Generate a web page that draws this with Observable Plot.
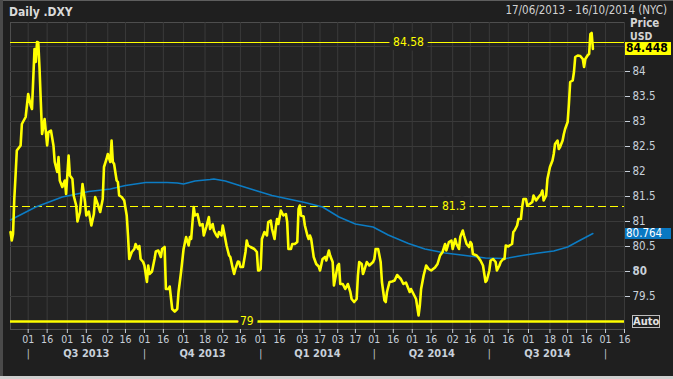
<!DOCTYPE html>
<html><head><meta charset="utf-8">
<script src="https://cdn.jsdelivr.net/npm/d3@7"></script>
<script src="https://cdn.jsdelivr.net/npm/@observablehq/plot@0.6"></script>
<style>
body{margin:0;background:#1f1f1f;}
#wrap{position:relative;width:673px;height:379px;overflow:hidden;background:#1f1f1f;font-family:"DejaVu Sans Condensed","DejaVu Sans",sans-serif;}
#wrap svg{position:absolute;left:0;top:0;}
.ov{position:absolute;white-space:nowrap;}
</style></head><body><div id="wrap"></div>
<script>
// ---------- data ----------
const title = "Daily .DXY";
const rangeText = "17/06/2013 - 16/10/2014 (NYC)";
const dateRange = ["2013-06-17", "2014-10-16"];
const yDomain = [78.84, 84.98];
const yLabels = [79.5, 80, 80.5, 81, 81.5, 82, 82.5, 83, 83.5, 84];
const gridValues = [79.5, 80, 80.5, 81, 81.5, 82, 82.5, 83, 83.5, 84, 84.5];
const tickDates = ["2013-07-01","2013-07-16","2013-08-01","2013-08-16","2013-09-02","2013-09-16","2013-10-01","2013-10-16","2013-11-01","2013-11-18","2013-12-02","2013-12-16","2014-01-01","2014-01-16","2014-02-03","2014-02-17","2014-03-03","2014-03-17","2014-04-01","2014-04-16","2014-05-01","2014-05-16","2014-06-02","2014-06-16","2014-07-01","2014-07-16","2014-08-01","2014-08-18","2014-09-01","2014-09-16","2014-10-01","2014-10-16"];
const quarterStarts = ["2013-07-01","2013-10-01","2014-01-01","2014-04-01","2014-07-01","2014-10-01"];
const quarterLabels = ["Q3 2013","Q4 2013","Q1 2014","Q2 2014","Q3 2014"];
const levelValues = [84.58, 81.3, 79];
const levelLabels = ["84.58", "81.3", "79"];
const levelLabelDates = ["2014-04-28", "2014-06-03", "2013-12-21"];
const lastPrice = 84.448;
const lastAverage = 80.764;

const price = [
["2013-06-17",80.79],["2013-06-18",80.62],["2013-06-19",80.75],["2013-06-20",81.45],["2013-06-21",81.92],["2013-06-22",82.42],
["2013-06-25",82.52],["2013-06-26",82.95],["2013-06-29",83.09],["2013-07-01",83.55],["2013-07-03",83.32],["2013-07-04",83.25],
["2013-07-06",84.45],["2013-07-07",84.19],["2013-07-08",84.59],["2013-07-09",84.58],["2013-07-10",84.05],["2013-07-11",83.39],
["2013-07-12",82.75],["2013-07-14",83.05],["2013-07-16",82.52],["2013-07-17",82.79],["2013-07-19",82.82],["2013-07-21",82.52],
["2013-07-22",82.19],["2013-07-24",81.99],["2013-07-25",82.29],["2013-07-26",81.82],["2013-07-28",81.69],["2013-07-30",81.82],
["2013-07-31",81.55],["2013-08-02",82.32],["2013-08-03",81.92],["2013-08-05",81.85],["2013-08-06",81.52],["2013-08-08",81.32],
["2013-08-09",81.00],["2013-08-11",81.19],["2013-08-13",81.75],["2013-08-15",81.39],["2013-08-16",81.12],["2013-08-18",81.20],
["2013-08-20",80.92],["2013-08-22",81.15],["2013-08-23",81.49],["2013-08-25",81.35],["2013-08-27",81.19],["2013-08-29",81.45],
["2013-08-30",82.09],["2013-09-01",82.25],["2013-09-02",82.35],["2013-09-04",82.19],["2013-09-05",82.62],["2013-09-06",82.19],
["2013-09-07",82.15],["2013-09-09",81.82],["2013-09-10",81.79],["2013-09-11",81.52],["2013-09-13",81.49],["2013-09-15",81.42],
["2013-09-17",81.12],["2013-09-18",80.72],["2013-09-19",80.25],["2013-09-21",80.39],["2013-09-23",80.45],["2013-09-24",80.55],
["2013-09-26",80.45],["2013-09-27",80.51],["2013-09-28",80.25],["2013-09-30",80.19],["2013-10-01",80.12],["2013-10-03",79.79],
["2013-10-04",80.12],["2013-10-05",79.95],["2013-10-07",80.00],["2013-10-09",80.25],["2013-10-10",80.40],["2013-10-12",80.42],
["2013-10-14",80.29],["2013-10-15",80.45],["2013-10-17",80.49],["2013-10-18",79.65],["2013-10-20",79.65],["2013-10-21",79.70],
["2013-10-23",79.25],["2013-10-25",79.20],["2013-10-27",79.25],["2013-10-28",79.59],["2013-10-30",79.99],["2013-11-01",80.45],
["2013-11-03",80.69],["2013-11-05",80.52],["2013-11-06",80.69],["2013-11-07",80.65],["2013-11-09",81.29],["2013-11-10",81.12],
["2013-11-12",81.15],["2013-11-14",80.92],["2013-11-16",80.95],["2013-11-17",80.72],["2013-11-19",80.89],["2013-11-21",81.09],
["2013-11-22",80.85],["2013-11-24",80.95],["2013-11-25",80.82],["2013-11-27",80.72],["2013-11-28",80.69],["2013-11-29",80.79],
["2013-12-01",80.72],["2013-12-02",80.92],["2013-12-03",80.79],["2013-12-05",80.52],["2013-12-07",80.32],["2013-12-08",80.29],
["2013-12-10",80.05],["2013-12-11",79.95],["2013-12-12",80.05],["2013-12-14",80.20],["2013-12-15",80.19],["2013-12-16",80.09],
["2013-12-18",80.09],["2013-12-20",80.39],["2013-12-21",80.62],["2013-12-22",80.52],["2013-12-24",80.49],["2013-12-27",80.45],
["2013-12-29",80.39],["2013-12-30",80.02],["2013-12-31",80.02],["2014-01-01",80.05],["2014-01-02",80.65],["2014-01-04",80.79],
["2014-01-06",80.72],["2014-01-07",80.99],["2014-01-09",81.02],["2014-01-10",80.85],["2014-01-12",80.65],["2014-01-13",80.89],
["2014-01-14",81.05],["2014-01-15",80.95],["2014-01-17",81.22],["2014-01-19",81.12],["2014-01-21",81.15],["2014-01-22",80.99],
["2014-01-23",80.45],["2014-01-25",80.45],["2014-01-26",80.55],["2014-01-28",80.55],["2014-01-30",80.59],["2014-01-31",81.25],
["2014-02-01",81.32],["2014-02-02",81.12],["2014-02-04",81.10],["2014-02-05",80.92],["2014-02-07",80.72],["2014-02-08",80.65],
["2014-02-09",80.72],["2014-02-10",80.65],["2014-02-12",80.29],["2014-02-14",80.15],["2014-02-16",80.10],["2014-02-17",80.02],
["2014-02-19",80.25],["2014-02-21",80.29],["2014-02-22",80.22],["2014-02-24",80.42],["2014-02-25",80.32],["2014-02-27",80.19],
["2014-02-28",79.72],["2014-03-03",80.12],["2014-03-04",80.15],["2014-03-05",79.75],["2014-03-07",79.75],["2014-03-09",79.65],
["2014-03-11",79.75],["2014-03-13",79.59],["2014-03-14",79.45],["2014-03-16",79.39],["2014-03-18",79.45],["2014-03-19",79.92],
["2014-03-20",80.19],["2014-03-22",80.15],["2014-03-23",79.95],["2014-03-24",80.02],["2014-03-26",80.19],["2014-03-28",80.12],
["2014-03-31",80.19],["2014-04-01",80.25],["2014-04-02",80.45],["2014-04-04",80.45],["2014-04-06",80.19],["2014-04-07",79.79],
["2014-04-09",79.42],["2014-04-10",79.39],["2014-04-11",79.59],["2014-04-13",79.79],["2014-04-15",79.80],["2014-04-17",79.82],
["2014-04-19",79.93],["2014-04-22",79.85],["2014-04-24",79.75],["2014-04-26",79.78],["2014-04-29",79.59],["2014-04-30",79.65],
["2014-05-02",79.55],["2014-05-04",79.45],["2014-05-06",79.12],["2014-05-07",79.32],["2014-05-08",79.65],["2014-05-10",79.92],
["2014-05-12",80.12],["2014-05-14",80.05],["2014-05-16",80.02],["2014-05-19",80.08],["2014-05-21",80.15],["2014-05-23",80.32],
["2014-05-25",80.39],["2014-05-27",80.55],["2014-05-28",80.42],["2014-05-30",80.59],["2014-06-01",80.62],["2014-06-02",80.45],
["2014-06-04",80.65],["2014-06-05",80.55],["2014-06-07",80.45],["2014-06-08",80.69],["2014-06-10",80.82],["2014-06-11",80.72],
["2014-06-13",80.55],["2014-06-15",80.49],["2014-06-16",80.59],["2014-06-17",80.55],["2014-06-18",80.35],["2014-06-21",80.32],
["2014-06-22",80.29],["2014-06-24",80.22],["2014-06-26",80.12],["2014-06-28",79.79],["2014-06-29",79.82],["2014-07-01",80.02],
["2014-07-02",80.22],["2014-07-04",80.25],["2014-07-06",80.19],["2014-07-07",80.02],["2014-07-09",80.12],["2014-07-10",80.19],
["2014-07-12",80.25],["2014-07-13",80.25],["2014-07-14",80.52],["2014-07-16",80.50],["2014-07-17",80.52],["2014-07-19",80.55],
["2014-07-20",80.79],["2014-07-21",80.82],["2014-07-23",80.92],["2014-07-24",81.05],["2014-07-26",81.05],["2014-07-27",81.29],
["2014-07-28",81.45],["2014-07-30",81.45],["2014-07-31",81.32],["2014-08-02",81.35],["2014-08-04",81.39],["2014-08-05",81.52],
["2014-08-07",81.42],["2014-08-09",81.49],["2014-08-11",81.55],["2014-08-12",81.62],["2014-08-13",81.42],["2014-08-15",81.52],
["2014-08-16",81.85],["2014-08-18",82.09],["2014-08-20",82.22],["2014-08-21",82.35],["2014-08-22",82.55],["2014-08-24",82.62],
["2014-08-25",82.45],["2014-08-26",82.49],["2014-08-28",82.62],["2014-08-29",82.75],["2014-08-30",82.85],["2014-09-01",82.99],
["2014-09-02",83.35],["2014-09-03",83.79],["2014-09-05",83.82],["2014-09-06",83.99],["2014-09-07",84.29],["2014-09-09",84.32],
["2014-09-11",84.31],["2014-09-13",84.25],["2014-09-14",84.09],["2014-09-15",84.25],["2014-09-17",84.33],["2014-09-18",84.35],
["2014-09-19",84.75],["2014-09-20",84.77],["2014-09-21",84.45]
];

const movingAvg = [
["2013-06-17",81.03],["2013-07-07",81.29],["2013-07-28",81.49],["2013-08-18",81.60],["2013-09-04",81.65],["2013-09-16",81.72],
["2013-10-02",81.78],["2013-10-19",81.78],["2013-10-27",81.77],["2013-11-01",81.75],["2013-11-10",81.81],["2013-11-22",81.84],
["2013-11-25",81.85],["2013-12-04",81.81],["2013-12-14",81.73],["2013-12-28",81.62],["2014-01-10",81.52],["2014-01-23",81.45],
["2014-02-05",81.38],["2014-02-19",81.29],["2014-03-04",81.09],["2014-03-17",80.95],["2014-03-31",80.89],["2014-04-12",80.73],
["2014-04-28",80.56],["2014-05-11",80.45],["2014-05-27",80.37],["2014-06-12",80.32],["2014-06-28",80.27],["2014-07-14",80.26],
["2014-07-27",80.32],["2014-08-09",80.37],["2014-08-21",80.41],["2014-09-01",80.49],["2014-09-09",80.60],["2014-09-21",80.76]
];

// ---------- build ----------
const parse = d3.utcParse("%Y-%m-%d");
const priceData = price.map(([d, v]) => ({date: parse(d), value: v}));
const maData = movingAvg.map(([d, v]) => ({date: parse(d), value: v}));
const ticks = tickDates.map(parse);
const qStarts = quarterStarts.map(parse);
const quarters = quarterLabels.map((label, i) => ({label, mid: new Date((+qStarts[i] + +qStarts[i + 1]) / 2)}));
const levels = levelValues.map((value, i) => ({value, label: levelLabels[i], date: parse(levelLabelDates[i])}));

const FONT = '"DejaVu Sans Condensed","DejaVu Sans",sans-serif';
const PLOTBG = "#232323";
const YEL = "#ffff00";
const AX = "#c8d0da";

const chart = Plot.plot({
  width: 673, height: 379,
  marginLeft: 10, marginRight: 49, marginTop: 22, marginBottom: 50,
  style: {background: "transparent", color: AX, fontFamily: FONT, fontSize: "11px", overflow: "visible"},
  x: {type: "utc", domain: dateRange.map(parse)},
  y: {domain: yDomain},
  marks: [
    Plot.frame({fill: PLOTBG, stroke: "#4e4e4e"}),
    Plot.gridY(gridValues, {stroke: "#3a3a3a", strokeOpacity: 1}),
    Plot.gridX(ticks, {stroke: "#3a3a3a", strokeOpacity: 1}),
    Plot.ruleY([levelValues[2]], {stroke: YEL, strokeWidth: 2.5}),
    Plot.ruleY([levelValues[0]], {stroke: YEL, strokeWidth: 1}),
    Plot.ruleY([levelValues[1]], {stroke: YEL, strokeWidth: 1.2, strokeDasharray: "8,4"}),
    Plot.text(levels, {x: "date", y: "value", text: "label", fill: YEL, stroke: PLOTBG, strokeWidth: 9, fontSize: 12}),
    Plot.line(maData, {x: "date", y: "value", stroke: "#0c7cc4", strokeWidth: 1.5}),
    Plot.line(priceData, {x: "date", y: "value", stroke: YEL, strokeWidth: 2.6}),
    Plot.axisY(yLabels.filter(v => v !== 80), {anchor: "right", tickSize: 5, tickPadding: 3, label: null, fontSize: 11.5, color: AX, tickFormat: d => String(d)}),
    Plot.axisY([80], {anchor: "right", tickSize: 5, tickPadding: 3, label: null, fontSize: 11.5, fontWeight: "bold", color: AX, tickFormat: d => String(d)}),
    Plot.axisX(ticks, {anchor: "bottom", tickSize: 4, tickPadding: 2, label: null, fontSize: 10.5, color: AX, tickFormat: d3.utcFormat("%d")}),
    Plot.text(quarters, {x: "mid", text: "label", frameAnchor: "bottom", dy: 27, fontWeight: "bold", fontSize: 11, fill: AX}),
    Plot.text(qStarts, {x: d => d, text: () => "|", frameAnchor: "bottom", dy: 27, fontSize: 10, fill: AX})
  ]
});

const wrap = document.getElementById("wrap");
wrap.appendChild(chart);

const ys = chart.scale("y");
function ov(text, css) {
  const d = document.createElement("div");
  d.className = "ov";
  d.textContent = text;
  Object.assign(d.style, css);
  wrap.appendChild(d);
  return d;
}
// frame borders of the window
ov("", {left: "0px", top: "0px", width: "673px", height: "1px", background: "#5e5e5e"});
ov("", {left: "0px", top: "0px", width: "3px", height: "379px", background: "#4a4a4a"});
ov("", {left: "0px", top: "376px", width: "673px", height: "3px", background: "#cfcfcf"});
// header
ov(title, {left: "9px", top: "5px", fontSize: "12px", lineHeight: "14px", fontWeight: "bold", color: "#dadada", fontFamily: FONT});
ov(rangeText, {right: "6px", top: "4px", fontSize: "11.5px", lineHeight: "13px", color: "#d2d2d2", fontFamily: FONT});
// right axis header
const yp = ys.apply(lastPrice);
ov("Price", {left: "630px", top: "17px", fontSize: "11.5px", lineHeight: "12px", fontWeight: "bold", color: "#d4d4d4", fontFamily: FONT});
ov("USD", {left: "630px", top: (yp - 6.5 - 11) + "px", fontSize: "10.5px", lineHeight: "11px", fontWeight: "bold", color: "#d4d4d4", fontFamily: FONT});
// value boxes
ov(lastPrice.toFixed(3), {left: "625px", top: (yp - 6.5) + "px", width: "45px", height: "13px", lineHeight: "13px", paddingLeft: "1px",
  background: YEL, color: "#000", fontWeight: "bold", fontSize: "12px", fontFamily: FONT});
const ya = ys.apply(lastAverage);
ov(lastAverage.toFixed(3), {left: "625px", top: (ya - 4.5) + "px", width: "45px", height: "11px", lineHeight: "11px", paddingLeft: "1px",
  background: "#0a78c2", color: "#fff", fontSize: "11.5px", fontFamily: FONT});
// Auto button
const y79 = ys.apply(levelValues[2]);
ov("Auto", {left: "632px", top: (y79 - 6) + "px", width: "26px", height: "11px", lineHeight: "11px", border: "1px solid #bdbdbd",
  textAlign: "center", fontWeight: "bold", fontSize: "11px", color: "#e2e2e2", fontFamily: FONT});
</script></body></html>
